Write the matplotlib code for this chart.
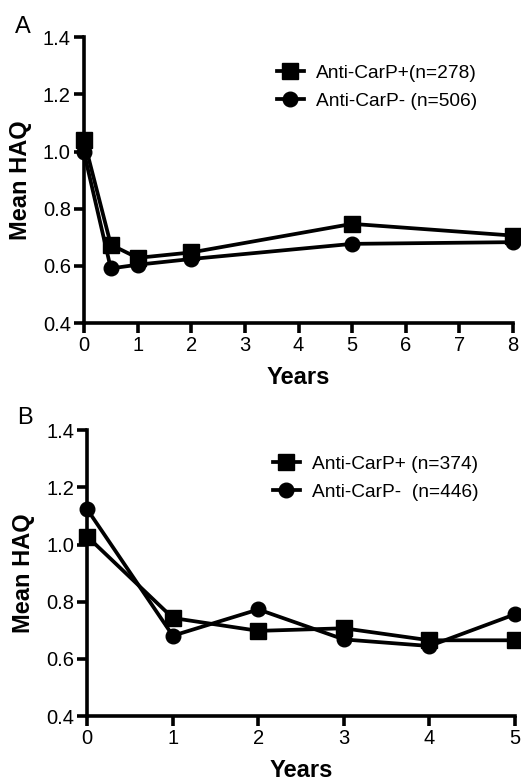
import numpy as np
import matplotlib
matplotlib.use("Agg")
import matplotlib.pyplot as plt

plt.rcParams['font.family'] = ['Liberation Sans', 'DejaVu Sans']

# panel A data
years_a = [0, 0.5, 1, 2, 5, 8]
pos_a = [1.04, 0.674, 0.628, 0.647, 0.747, 0.706]
neg_a = [0.997, 0.591, 0.604, 0.624, 0.677, 0.683]
labels_a = ["Anti-CarP+(n=278)", "Anti-CarP- (n=506)"]
xticks_a = [0, 1, 2, 3, 4, 5, 6, 7, 8]

# panel B data
years_b = [0, 1, 2, 3, 4, 5]
pos_b = [1.028, 0.743, 0.698, 0.707, 0.665, 0.665]
neg_b = [1.123, 0.681, 0.773, 0.668, 0.645, 0.756]
labels_b = ["Anti-CarP+ (n=374)", "Anti-CarP-  (n=446)"]
xticks_b = [0, 1, 2, 3, 4, 5]

yticks = [0.4, 0.6, 0.8, 1.0, 1.2, 1.4]

fig = plt.figure(figsize=(5.21, 7.82), dpi=100)
ax_a = fig.add_axes([84/521, 1-323/782, (513-84)/521, (323-37.3)/782])
ax_b = fig.add_axes([87.3/521, 1-716/782, (515-87.3)/521, (716-430.3)/782])


def draw(ax, x, pos, neg, labels, xticks, leg_xy):
    ax.plot(x, pos, color='black', lw=2.7, marker='s', ms=11, clip_on=False,
            zorder=3, label=labels[0])
    ax.plot(x, neg, color='black', lw=2.7, marker='o', ms=10.5, clip_on=False,
            zorder=3, label=labels[1])
    ax.set_xlim(xticks[0], xticks[-1])
    ax.set_ylim(0.4, 1.4)
    ax.set_xticks(xticks)
    ax.set_yticks(yticks)
    ax.set_yticklabels(["%.1f" % v for v in yticks])
    for d in ["top", "right"]:
        ax.spines[d].set_visible(False)
    for d in ["left", "bottom"]:
        ax.spines[d].set_linewidth(2.6)
    ax.tick_params(width=2.6, length=7, labelsize=14.5, pad=2.5)
    ax.set_xlabel("Years", fontsize=17, fontweight='bold', labelpad=8)
    ax.set_ylabel("Mean HAQ", fontsize=17, fontweight='bold', labelpad=8)
    ax.legend(loc='upper left', bbox_to_anchor=leg_xy, frameon=False,
              fontsize=13.8, handlelength=1.4, handletextpad=0.65,
              labelspacing=0.55, borderpad=0, borderaxespad=0)


draw(ax_a, years_a, pos_a, neg_a, labels_a, xticks_a, (0.45, 0.905))
draw(ax_b, years_b, pos_b, neg_b, labels_b, xticks_b, (0.434, 0.913))

fig.text(15/521, 1-33/782, "A", fontsize=17, ha='left', va='baseline')
fig.text(17/521, 1-424/782, "B", fontsize=17, ha='left', va='baseline')

fig.savefig("out.png", dpi=100)
